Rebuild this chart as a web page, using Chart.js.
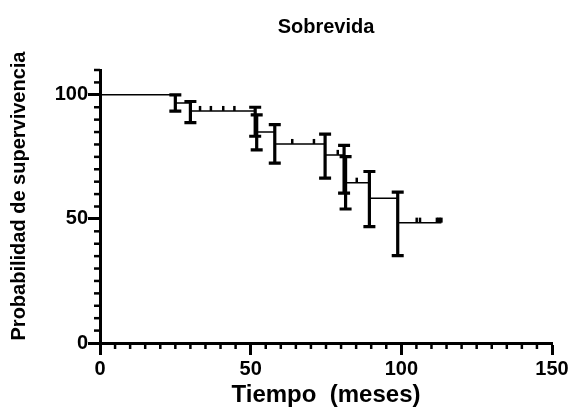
<!DOCTYPE html>
<html><head><meta charset="utf-8">
<script src="https://cdn.jsdelivr.net/npm/chart.js@4.4.1/dist/chart.umd.min.js"></script>
<style>html,body{margin:0;padding:0;background:#fff;} #wrap{width:571px;height:414px;position:relative;}</style>
</head><body><div id="wrap"><canvas id="c"></canvas></div>
<script>
// Kaplan-Meier steps (time in months, survival %)
const eventTimes = [0, 25, 30, 51.5, 52, 58, 74.7, 81, 81.5, 89.4, 98.8];
const survival   = [100, 96.7, 93.5, 89.3, 85.0, 80.2, 75.8, 70.0, 64.6, 58.3, 48.5];
const errLow     = [null, 93.4, 88.8, 83.3, 77.8, 72.5, 66.4, 60.4, 54.0, 46.9, 35.2];
const errHigh    = [null, 100, 97.3, 95.0, 91.9, 88.0, 84.2, 79.6, 75.1, 69.1, 60.8];
const censorTimes  = [33.2, 36.8, 40.9, 44.6, 63.8, 71.0, 78.9, 85.2, 105.1, 106.2, 111.8, 112.3, 112.8, 113.3];
const censorValues = [93.5, 93.5, 93.5, 93.5, 80.2, 80.2, 75.8, 64.6, 48.5, 48.5, 48.5, 48.5, 48.5, 48.5];
const lastTime = 113.3;
const xTicks = [0, 50, 100, 150];
const yTicks = [0, 50, 100];
const xMax = 150, yMax = 110, minorStep = 5;
const chartTitle = 'Sobrevida';
const xTitle = 'Tiempo  (meses)';
const yTitle = 'Probabilidad de supervivencia';

const FONT = "'Liberation Sans', Arial, sans-serif";
Chart.defaults.font.family = FONT;
Chart.defaults.color = '#000';

const kmPoints = eventTimes.map((t, i) => ({x: t, y: survival[i]}));
kmPoints.push({x: lastTime, y: survival[survival.length - 1]});

const extras = {
  id: 'extras',
  afterDatasetsDraw(chart) {
    const ctx = chart.ctx, xs = chart.scales.x, ys = chart.scales.y, ca = chart.chartArea;
    ctx.save();
    ctx.strokeStyle = '#000';
    ctx.fillStyle = '#000';
    // error bars
    ctx.lineWidth = 3.2;
    ctx.lineCap = 'butt';
    for (let i = 0; i < eventTimes.length; i++) {
      if (errLow[i] == null) continue;
      const px = xs.getPixelForValue(eventTimes[i]);
      const yl = ys.getPixelForValue(errLow[i]);
      const yh = ys.getPixelForValue(errHigh[i]);
      ctx.beginPath();
      ctx.moveTo(px, yl); ctx.lineTo(px, yh);
      ctx.moveTo(px - 6, yl); ctx.lineTo(px + 6, yl);
      ctx.moveTo(px - 6, yh); ctx.lineTo(px + 6, yh);
      ctx.stroke();
    }
    // censor ticks
    ctx.lineWidth = 2.5;
    for (let i = 0; i < censorTimes.length; i++) {
      const px = xs.getPixelForValue(censorTimes[i]);
      const py = ys.getPixelForValue(censorValues[i]);
      ctx.beginPath();
      ctx.moveTo(px, py); ctx.lineTo(px, py - 5);
      ctx.stroke();
    }
    // minor ticks
    ctx.lineWidth = 2.5;
    for (let v = minorStep; v < xMax; v += minorStep) {
      if (xTicks.includes(v)) continue;
      const px = xs.getPixelForValue(v);
      ctx.beginPath(); ctx.moveTo(px, ca.bottom); ctx.lineTo(px, ca.bottom + 6); ctx.stroke();
    }
    for (let v = minorStep; v <= yMax; v += minorStep) {
      if (yTicks.includes(v)) continue;
      const py = ys.getPixelForValue(v);
      ctx.beginPath(); ctx.moveTo(ca.left, py); ctx.lineTo(ca.left - 6, py); ctx.stroke();
    }
    // chart title
    ctx.font = 'bold 20px ' + FONT;
    ctx.textAlign = 'center';
    ctx.textBaseline = 'middle';
    ctx.fillText(chartTitle, (ca.left + ca.right) / 2, 27);
    // y title
    ctx.save();
    ctx.translate(19, 196);
    ctx.rotate(-Math.PI / 2);
    ctx.font = 'bold 20px ' + FONT;
    ctx.fillText(yTitle, 0, 0);
    ctx.restore();
    ctx.restore();
  }
};

new Chart(document.getElementById('c'), {
  type: 'line',
  data: {
    datasets: [{
      data: kmPoints,
      stepped: true,
      borderColor: '#000',
      borderWidth: 1.5,
      pointRadius: 0,
      fill: false,
      clip: false
    }]
  },
  options: {
    responsive: true,
    maintainAspectRatio: false,
    animation: false,
    layout: {padding: {top: 70, right: 19, left: 0, bottom: 0}},
    plugins: {legend: {display: false}, tooltip: {enabled: false}, title: {display: false}},
    scales: {
      x: {
        type: 'linear', min: 0, max: xMax,
        afterBuildTicks: s => { s.ticks = xTicks.map(v => ({value: v})); },
        afterFit: s => { s.height = 71; },
        grid: {drawOnChartArea: false, drawTicks: true, tickLength: 12, tickWidth: 3, tickColor: '#000'},
        border: {display: true, width: 3, color: '#000'},
        ticks: {font: {size: 20, weight: 'bold'}, padding: 2, color: '#000', maxRotation: 0},
        title: {display: true, text: xTitle, font: {size: 24, weight: 'bold'}, color: '#000', padding: {top: 0, bottom: 4}}
      },
      y: {
        type: 'linear', min: 0, max: yMax,
        afterBuildTicks: s => { s.ticks = yTicks.map(v => ({value: v})); },
        afterFit: s => { s.width = 100; },
        grid: {drawOnChartArea: false, drawTicks: true, tickLength: 12, tickWidth: 3, tickColor: '#000'},
        border: {display: true, width: 3, color: '#000'},
        ticks: {font: {size: 20, weight: 'bold'}, padding: 0, color: '#000'}
      }
    }
  },
  plugins: [extras]
});
</script></body></html>
